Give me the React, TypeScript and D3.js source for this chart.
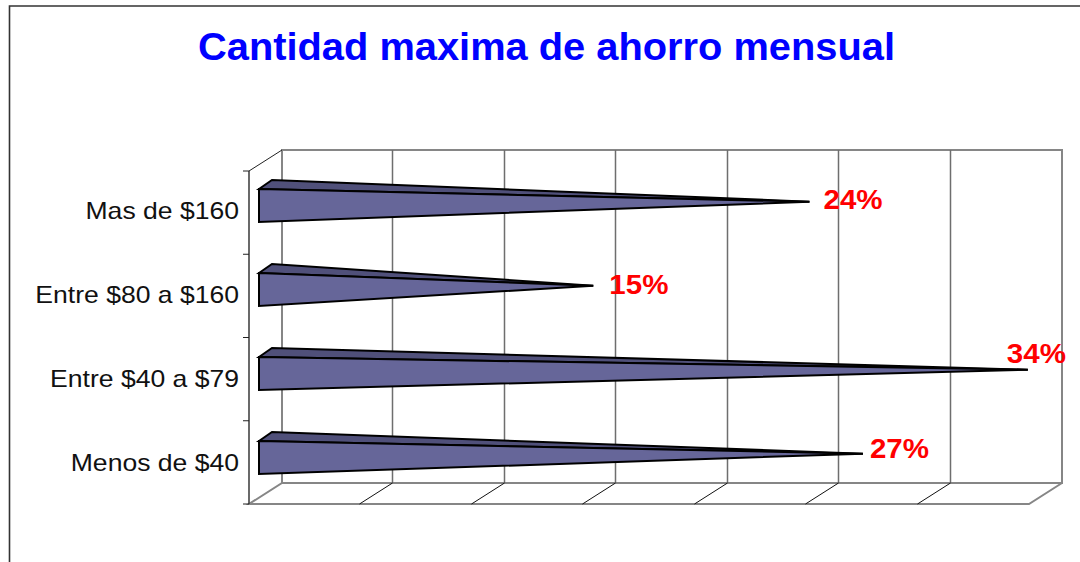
import React, { useEffect, useRef } from 'react'
import * as d3 from 'd3'

// top to bottom, as drawn
const categories = ['Mas de $160', 'Entre $80 a $160', 'Entre $40 a $79', 'Menos de $40']
const values = [24.7, 15, 34.5, 27.1] // bar lengths
const valueLabels = ['24%', '15%', '34%', '27%']
const xTicks = [0, 5, 10, 15, 20, 25, 30, 35]

const title = 'Cantidad maxima de ahorro mensual'
const FONT = '"Liberation Sans", Arial, sans-serif'

export default function App() {
  const ref = useRef<SVGSVGElement>(null)

  useEffect(() => {
    if (!ref.current) return
    const svg = d3.select(ref.current)
    svg.selectAll('*').remove()

    // 3D box: front plane and how far the back wall is shifted
    const front = { left: 249, right: 1029, top: 171, bottom: 504 }
    const depth = { x: 33, y: -21 }
    const barLeft = 259
    const barH = 33

    const x = d3.scaleLinear().domain([0, 35]).range([front.left, front.right])
    // bars sit inside the depth so they start a bit right of the axis
    const barX = d3.scaleLinear().domain([0, 35]).range([barLeft, barLeft + 780])
    const y = d3.scaleBand().domain(categories).range([front.top, front.bottom])
    const rowY = d3.scaleBand().domain(categories).range([front.top, front.top + 336])

    // outer chart border, only top and left show in the crop
    svg.append('path').attr('d', 'M9.5,562V6H1080').attr('fill', 'none').attr('stroke', '#333').attr('stroke-width', 1.6)

    svg.append('text')
      .attr('x', 198).attr('y', 59.5)
      .attr('textLength', 697).attr('lengthAdjust', 'spacingAndGlyphs')
      .attr('font-family', FONT).attr('font-weight', 'bold').attr('font-size', 38)
      .attr('fill', '#0000ff')
      .text(title)

    const grey = '#868686'
    const g = svg.append('g').attr('fill', 'none')

    // back wall + floor
    g.append('path')
      .attr('d', `M${front.left + depth.x},${front.bottom + depth.y}V${front.top + depth.y}H${front.right + depth.x}V${front.bottom + depth.y}H${front.left + depth.x}L${front.left},${front.bottom}H${front.right}L${front.right + depth.x},${front.bottom + depth.y}`)
      .attr('stroke', grey).attr('stroke-width', 2)

    // gridlines on the wall, slanted ticks on the floor
    xTicks.slice(1, -1).forEach((t) => {
      const px = Math.round(x(t)) - 0.5
      g.append('line')
        .attr('x1', px + depth.x).attr('x2', px + depth.x)
        .attr('y1', front.top + depth.y).attr('y2', front.bottom + depth.y)
        .attr('stroke', '#6e6e6e').attr('stroke-width', 1.5)
      g.append('line')
        .attr('x1', px + depth.x).attr('y1', front.bottom + depth.y)
        .attr('x2', px).attr('y2', front.bottom)
        .attr('stroke', '#111').attr('stroke-width', 1)
    })

    // category axis on the front left edge
    g.append('line')
      .attr('x1', front.left).attr('x2', front.left)
      .attr('y1', front.top).attr('y2', front.bottom)
      .attr('stroke', '#444').attr('stroke-width', 1.6)
    g.append('line')
      .attr('x1', front.left).attr('y1', front.top)
      .attr('x2', front.left + depth.x).attr('y2', front.top + depth.y)
      .attr('stroke', '#222').attr('stroke-width', 1)
    const tickYs = [...categories.map((c) => y(c)!), front.bottom]
    tickYs.forEach((ty) => {
      g.append('line')
        .attr('x1', front.left - 6).attr('x2', front.left)
        .attr('y1', ty).attr('y2', ty)
        .attr('stroke', '#222').attr('stroke-width', 1)
    })

    // the original text is stretched sideways, hence the scale
    svg.append('g')
      .selectAll('text')
      .data(categories)
      .enter()
      .append('text')
      .attr('transform', (d) => `translate(239,${rowY(d)! + 47.5}) scale(1.155,1)`)
      .attr('text-anchor', 'end')
      .attr('font-family', FONT).attr('font-size', 23)
      .attr('fill', '#111')
      .text((d) => d)

    // pyramids
    const bars = svg.append('g')
    categories.forEach((c, i) => {
      const top = rowY(c)! + 18
      const tip: [number, number] = [barX(values[i]), top + 12.7]
      const backLeft: [number, number] = [barLeft + 13, top - 9]
      bars.append('path')
        .attr('d', d3.line()([[barLeft, top], backLeft, tip])! + 'Z')
        .attr('fill', '#50507a').attr('stroke', '#000').attr('stroke-width', 2).attr('stroke-linejoin', 'miter')
      bars.append('path')
        .attr('d', d3.line()([[barLeft, top], [barLeft, top + barH], tip])! + 'Z')
        .attr('fill', '#666699').attr('stroke', '#000').attr('stroke-width', 2).attr('stroke-linejoin', 'miter')
    })

    // data labels were hand placed in the original
    const labelDx = [14, 16, -21, 7]
    const labelY = [209, 294, 363, 458]
    svg.append('g')
      .selectAll('text')
      .data(valueLabels)
      .enter()
      .append('text')
      .attr('transform', (_, i) => `translate(${barX(values[i]) + labelDx[i]},${labelY[i]}) scale(1.055,1)`)
      .attr('font-family', FONT).attr('font-weight', 'bold').attr('font-size', 28)
      .attr('fill', '#ff0000')
      .text((d) => d)
  }, [])

  return <svg ref={ref} width={1080} height={562} style={{ position: 'absolute', left: 0, top: 0, background: '#fff' }} />
}
